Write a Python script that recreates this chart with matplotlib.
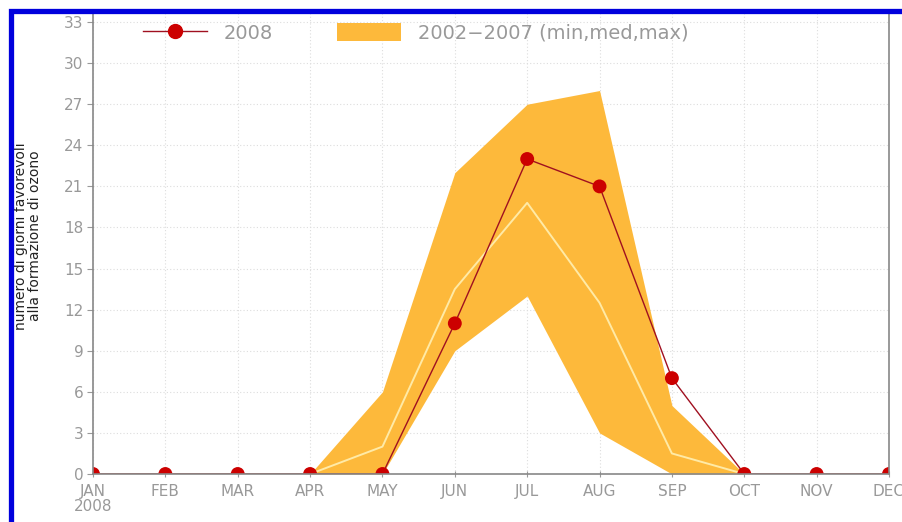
import matplotlib
matplotlib.use("Agg")
import matplotlib.pyplot as plt
from matplotlib.patches import Rectangle, Patch
from matplotlib.lines import Line2D

months = ["JAN", "FEB", "MAR", "APR", "MAY", "JUN", "JUL", "AUG", "SEP", "OCT", "NOV", "DEC"]
year_label = "2008"
v2008 = [0, 0, 0, 0, 0, 11, 23, 21, 7, 0, 0, 0]
v_min = [0, 0, 0, 0, 0, 9, 13, 3, 0, 0, 0, 0]
v_med = [0, 0, 0, 0, 2, 13.5, 19.8, 12.5, 1.5, 0, 0, 0]
v_max = [0, 0, 0, 0, 6, 22, 27, 28, 5, 0, 0, 0]
yticks = list(range(0, 34, 3))
legend_labels = ["2008", "2002\u22122007 (min,med,max)"]
ylabel = "numero di giorni favorevoli\nalla formazione di ozono"

W, H = 902, 522
fig = plt.figure(figsize=(W / 100, H / 100), dpi=100, facecolor="white")
ax = fig.add_axes([93 / W, 1 - 474 / H, (889 - 93) / W, (474 - 13) / H])

x = list(range(len(months)))
orange = "#fdb93b"
ax.fill_between(x, v_min, v_max, color=orange, linewidth=0, zorder=2)
ax.plot(x, v_med, color="#ffeaa6", lw=1.4, zorder=3)
ax.plot(x, v2008, color="#a01020", lw=1.0, zorder=4)
ax.scatter(x, v2008, s=100, color="#cc0000", edgecolors="none", zorder=4.5, clip_on=True)

ax.set_xlim(0, 11)
ax.set_ylim(0, 33.66)
ax.set_yticks(yticks)
ax.set_xticks(x)
ax.set_xticklabels([m + ("\n" + year_label if i == 0 else "") for i, m in enumerate(months)])

ax.grid(True, color="#dddddd", linestyle=(0, (1, 2)), linewidth=0.8, zorder=0)
ax.set_axisbelow(True)

for s in ["left", "bottom", "right"]:
    ax.spines[s].set_color("#888888")
    ax.spines[s].set_linewidth(1.2)
    ax.spines[s].set_zorder(5)
ax.spines["top"].set_visible(False)

ax.tick_params(axis="both", colors="#999999", labelcolor="#999999", labelsize=11,
               length=4, width=0.8)
ax.tick_params(axis="x", direction="inout", length=5, pad=5)
ax.tick_params(axis="y", direction="out", pad=3)
for t in ax.get_xticklabels():
    t.set_linespacing(0.95)

ax.set_ylabel(ylabel, fontsize=10, color="#222222", linespacing=1.0)
ax.yaxis.set_label_coords(-0.064, 0.516)

handles = [
    Line2D([0], [0], color="#a01020", lw=1.0, marker="o", markersize=10,
           markerfacecolor="#cc0000", markeredgecolor="#cc0000"),
    Patch(facecolor=orange, edgecolor="none"),
]
leg = ax.legend(handles, legend_labels, ncol=2, frameon=False, loc="center left",
                bbox_to_anchor=((143 - 93) / (889 - 93), (474 - 33) / (474 - 13)),
                borderpad=0, borderaxespad=0, fontsize=14, handlelength=3.3,
                handleheight=1.0, handletextpad=0.87, columnspacing=3.27)
for t in leg.get_texts():
    t.set_color("#999999")

fig.patches.append(Rectangle((10.5 / W, -0.1), 1.2, 1 - 10.5 / H + 0.1,
                             transform=fig.transFigure, fill=False,
                             edgecolor="#0000dd", linewidth=3.8, zorder=10))

fig.savefig("out.png", dpi=100, facecolor=fig.get_facecolor())
